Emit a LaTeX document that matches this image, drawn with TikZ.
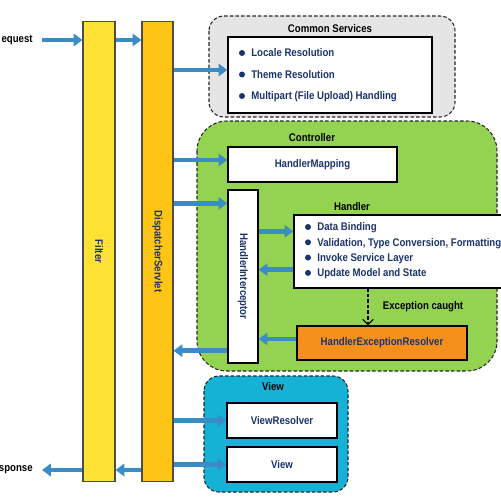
\documentclass[tikz,border=0pt]{standalone}
\usepackage{fontspec}
\setmainfont{Liberation Sans}[FakeStretch=0.87]
\usetikzlibrary{calc,arrows.meta,positioning}
\definecolor{flowBlue}{RGB}{58,140,198}
\definecolor{textNavy}{RGB}{28,52,108}
\definecolor{filterYellow}{RGB}{255,226,52}
\definecolor{servletYellow}{RGB}{255,197,22}
\definecolor{ctrlGreen}{RGB}{148,210,82}
\definecolor{viewCyan}{RGB}{22,178,214}
\definecolor{commonGray}{RGB}{229,229,229}
\definecolor{resolverOrange}{RGB}{246,144,28}

\begin{document}
\begin{tikzpicture}[x=0.02cm,y=-0.02cm,
    font=\fontsize{6.3}{7.5}\selectfont\bfseries,
    flow/.style={flowBlue, line width=2.6pt, -{Triangle[length=5pt,width=7pt]}},
    excflow/.style={black, line width=0.6pt, dash pattern=on 2pt off 1.2pt, -{Straight Barb[length=3pt,width=6pt]}},
    area/.style={draw=black!85, line width=0.6pt, dash pattern=on 2pt off 1.2pt, rounded corners=3mm},
    box/.style={draw=black, fill=white, line width=0.8pt, text=textNavy, inner sep=0pt},
    bar/.style={draw=black!70, line width=0.6pt, text=textNavy, inner sep=0pt, minimum height=92.2mm},
    items/.style={anchor=west, inner sep=0pt, text height=4.5pt, text depth=0pt, text=textNavy},
    dot/.style={fill=textNavy}]
    \useasboundingbox (0,0) rectangle (500,500);

    % areas
    \draw[area, fill=commonGray] (209,16) rectangle (455,117);
    \draw[area, fill=ctrlGreen, rounded corners=6mm] (197,121) rectangle (497,371);
    \draw[area, fill=viewCyan] (204,376) rectangle (348,492);

    % filter and servlet
    \node[bar, fill=filterYellow, minimum width=6.4mm] (filterBar) at (99,251.5) {\rotatebox{-90}{Filter}};
    \node[bar, fill=servletYellow, minimum width=6.2mm] (dispBar) at (157.5,251.5) {\rotatebox{-90}{DispatcherServlet}};
    \node[anchor=east, inner sep=0pt] (reqText) at (33,40) {equest};
    \node[anchor=east, inner sep=0pt] (respText) at (33,470) {sponse};

    % common services
    \node (commonTitle) at (330,29) {Common Services};
    \node[box, minimum width=40.8mm, minimum height=15.2mm] (commonList) at (330,75) {};
    \foreach \itemText [count=\k] in {Locale Resolution, Theme Resolution, Multipart (File Upload) Handling} {
        \fill[dot] (242,31.5+21.5*\k) circle (3);
        \node[items] (commonItem\k) at (251,31.5+21.5*\k) {\itemText};
    }

    % controller
    \node (ctrlTitle) at (312,138) {Controller};
    \node[box, minimum width=33.8mm, minimum height=7mm] (mapBox) at (312.5,164.5) {HandlerMapping};
    \node[box, minimum width=6mm, minimum height=34.6mm] (interceptBox) at (243,276.5) {\rotatebox{-90}{HandlerInterceptor}};
    \node (handlerTitle) at (352,207) {Handler};
    \node[box, minimum width=45.2mm, minimum height=14.6mm] (handlerBox) at (407,251.5) {};
    \foreach \itemText [count=\k] in {Data Binding, {Validation, Type Conversion, Formatting}, Invoke Service Layer, Update Model and State} {
        \fill[dot] (308,211.7+15.3*\k) circle (3);
        \node[items] (handlerItem\k) at (317,211.7+15.3*\k) {\itemText};
    }
    \node[box, fill=resolverOrange, minimum width=34mm, minimum height=6.8mm] (resolverBox) at (382,343) {HandlerExceptionResolver};
    \coordinate (excTop) at (368,288);
    \node (excText) at (423,307) {Exception caught};
    \draw[excflow] (excTop) -- (excTop |- resolverBox.north);

    % view
    \node (viewTitle) at (273,387) {View};
    \node[box, minimum width=22mm, minimum height=7mm] (viewResolverBox) at (282,420.5) {ViewResolver};
    \node[box, minimum width=22mm, minimum height=7mm] (viewBox) at (282,464.5) {View};

    % request flow
    \draw[flow, shorten <=1.8mm] (reqText.east) -- (filterBar.west |- reqText.east);
    \draw[flow] (filterBar.east |- reqText.east) -- (dispBar.west |- reqText.east);
    \draw[flow] ($(dispBar.east |- commonList.west)+(0,-5)$) -- ($(commonList.west)+(0,-5)$);
    \draw[flow] ($(dispBar.east |- mapBox.west)+(0,-4.5)$) -- ($(mapBox.west)+(0,-4.5)$);
    \draw[flow] ($(dispBar.east |- interceptBox.north)+(0,14)$) -- ($(interceptBox.north west)+(0,14)$);
    \draw[flow] ($(interceptBox.east |- handlerBox.north)+(0,17)$) -- ($(handlerBox.north west)+(0,17)$);
    \draw[flow] ($(handlerBox.south west)+(0,-19)$) -- ($(interceptBox.east |- handlerBox.south)+(0,-19)$);
    \draw[flow] ($(resolverBox.west)+(0,-4)$) -- ($(interceptBox.east |- resolverBox.west)+(0,-4)$);
    \draw[flow] ($(interceptBox.south west)+(0,-13)$) -- ($(dispBar.east |- interceptBox.south)+(0,-13)$);
    \draw[flow] (dispBar.east |- viewResolverBox.west) -- (viewResolverBox.west);
    \draw[flow] (dispBar.east |- viewBox.west) -- (viewBox.west);

    % response flow
    \draw[flow] (dispBar.west |- respText.east) -- (filterBar.east |- respText.east);
    \draw[flow, shorten >=1.8mm] (filterBar.west |- respText.east) -- (respText.east);
\end{tikzpicture}
\end{document}
